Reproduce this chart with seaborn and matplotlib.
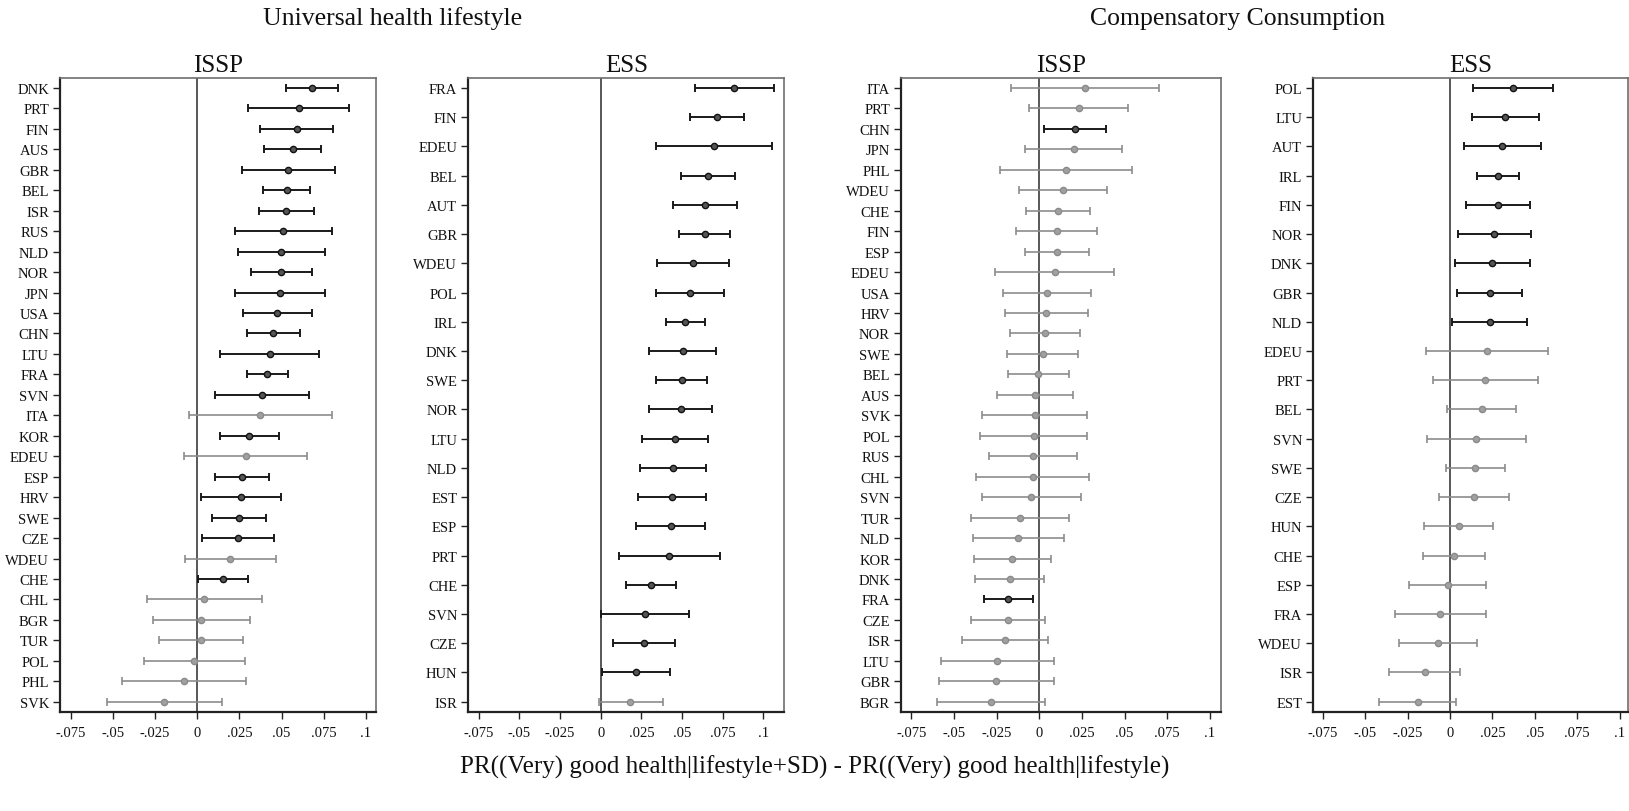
#forest plots of the marginal effect of one SD change, ISSP vs ESS
import matplotlib
matplotlib.use("Agg")
import matplotlib.pyplot as plt
import pandas as pd
import seaborn as sns

# --- Universal health lifestyle, ISSP
issp_uni_ctry = ["DNK", "PRT", "FIN", "AUS", "GBR", "BEL", "ISR", "RUS", "NLD", "NOR", "JPN", "USA",
                 "CHN", "LTU", "FRA", "SVN", "ITA", "KOR", "EDEU", "ESP", "HRV", "SWE", "CZE", "WDEU",
                 "CHE", "CHL", "BGR", "TUR", "POL", "PHL", "SVK"]
issp_uni_est = [.0679, .0604, .0590, .0566, .0538, .0530, .0528, .0511, .0499, .0499, .0491, .0475,
                .0451, .0430, .0416, .0386, .0374, .0309, .0289, .0265, .0257, .0247, .0241, .0196,
                .0150, .0040, .0024, .0020, -.0018, -.0081, -.0196]
issp_uni_lo = [.0525, .0303, .0374, .0398, .0263, .0392, .0366, .0226, .0241, .0321, .0224, .0273,
               .0293, .0135, .0297, .0105, -.0049, .0135, -.0077, .0105, .0020, .0087, .0030, -.0073,
               .0004, -.0301, -.0263, -.0230, -.0317, -.0445, -.0536]
issp_uni_hi = [.0837, .0903, .0804, .0732, .0816, .0671, .0693, .0798, .0760, .0679, .0760, .0679,
               .0612, .0723, .0540, .0663, .0800, .0485, .0653, .0426, .0497, .0408, .0453, .0465,
               .0301, .0382, .0311, .0269, .0281, .0287, .0144]

# --- Universal health lifestyle, ESS
ess_uni_ctry = ["FRA", "FIN", "EDEU", "BEL", "AUT", "GBR", "WDEU", "POL", "IRL", "DNK", "SWE", "NOR",
                "LTU", "NLD", "EST", "ESP", "PRT", "CHE", "SVN", "CZE", "HUN", "ISR"]
ess_uni_est = [.0822, .0717, .0695, .0658, .0639, .0639, .0566, .0549, .0520, .0504, .0498, .0492,
               .0457, .0443, .0441, .0430, .0422, .0309, .0273, .0266, .0219, .0182]
ess_uni_lo = [.0578, .0551, .0340, .0494, .0447, .0480, .0344, .0342, .0404, .0297, .0340, .0299,
              .0256, .0242, .0232, .0217, .0111, .0158, .0004, .0076, .0010, -.0012]
ess_uni_hi = [.1064, .0881, .1051, .0826, .0836, .0797, .0789, .0758, .0641, .0711, .0656, .0684,
              .0662, .0645, .0650, .0643, .0734, .0461, .0543, .0459, .0426, .0381]

# --- Compensatory Consumption, ISSP
issp_comp_ctry = ["ITA", "PRT", "CHN", "JPN", "PHL", "WDEU", "CHE", "FIN", "ESP", "EDEU", "USA", "HRV",
                  "NOR", "SWE", "BEL", "AUS", "SVK", "POL", "RUS", "CHL", "SVN", "TUR", "NLD", "KOR",
                  "DNK", "FRA", "CZE", "ISR", "LTU", "GBR", "BGR"]
issp_comp_est = [.0270, .0232, .0209, .0201, .0158, .0139, .0109, .0102, .0102, .0090, .0045, .0041,
                 .0035, .0020, -.0008, -.0025, -.0025, -.0033, -.0037, -.0039, -.0049, -.0115, -.0123, -.0158,
                 -.0174, -.0182, -.0182, -.0199, -.0246, -.0252, -.0283]
issp_comp_lo = [-.0164, -.0059, .0027, -.0082, -.0230, -.0121, -.0078, -.0135, -.0084, -.0260, -.0213, -.0201,
                -.0172, -.0189, -.0182, -.0250, -.0334, -.0346, -.0295, -.0369, -.0336, -.0402, -.0391, -.0381,
                -.0375, -.0324, -.0402, -.0453, -.0578, -.0590, -.0600]
issp_comp_hi = [.0701, .0521, .0393, .0484, .0545, .0398, .0297, .0340, .0289, .0438, .0303, .0283,
                .0240, .0229, .0174, .0197, .0281, .0279, .0223, .0289, .0242, .0174, .0145, .0066,
                .0029, -.0035, .0035, .0051, .0088, .0084, .0035]

# --- Compensatory Consumption, ESS
ess_comp_ctry = ["POL", "LTU", "AUT", "IRL", "FIN", "NOR", "DNK", "GBR", "NLD", "EDEU", "PRT", "BEL",
                 "SVN", "SWE", "CZE", "HUN", "CHE", "ESP", "FRA", "WDEU", "ISR", "EST"]
ess_comp_est = [.0374, .0325, .0309, .0283, .0281, .0260, .0248, .0234, .0234, .0217, .0209, .0187,
                .0154, .0150, .0140, .0051, .0022, -.0014, -.0057, -.0069, -.0150, -.0191]
ess_comp_lo = [.0138, .0130, .0085, .0157, .0093, .0045, .0028, .0041, .0010, -.0144, -.0102, -.0016,
               -.0138, -.0026, -.0065, -.0154, -.0161, -.0240, -.0327, -.0299, -.0358, -.0419]
ess_comp_hi = [.0608, .0524, .0535, .0409, .0469, .0476, .0469, .0425, .0455, .0577, .0520, .0390,
               .0449, .0327, .0348, .0256, .0205, .0215, .0215, .0159, .0059, .0035]

xticks = [-.075, -.05, -.025, 0, .025, .05, .075, .1]
xticklabels = ["-.075", "-.05", "-.025", "0", ".025", ".05", ".075", ".1"]

sns.set_style("white")
plt.rcParams["font.family"] = ["Liberation Serif", "DejaVu Serif"]

W, H = 1629, 812
fig = plt.figure(figsize=(W / 100, H / 100), dpi=100)

panels = [
    ("ISSP", issp_uni_ctry, issp_uni_est, issp_uni_lo, issp_uni_hi, 60, 316, (-0.0815, 0.1061)),
    ("ESS", ess_uni_ctry, ess_uni_est, ess_uni_lo, ess_uni_hi, 468.3, 316, (-0.0814, 0.1129)),
    ("ISSP", issp_comp_ctry, issp_comp_est, issp_comp_lo, issp_comp_hi, 901, 320, (-0.0810, 0.1065)),
    ("ESS", ess_comp_ctry, ess_comp_est, ess_comp_lo, ess_comp_hi, 1313.3, 314.7, (-0.0807, 0.1050)),
]

top_px, bot_px = 79, 712.7
for title, ctry, est, lo, hi, left_px, width_px, xlim in panels:
    ax = fig.add_axes([left_px / W, 1 - bot_px / H, width_px / W, (bot_px - top_px) / H])
    df = pd.DataFrame({"country": ctry, "est": est, "lo": lo, "hi": hi})
    df["pos"] = range(len(df))
    df["sig"] = (df["lo"] > 0) | (df["hi"] < 0)
    n = len(df)

    ax.axvline(0, color="#4a4a4a", lw=1.3, zorder=1)

    styles = {False: ("#8c8c8c", "#a0a0a0", "#8a8a8a", 1.2),
              True: ("#1a1a1a", "#555555", "#111111", 1.4)}
    for sig, (lc, fc, ec, lw) in styles.items():
        sub = df[df["sig"] == sig]
        if sub.empty:
            continue
        ax.errorbar(sub["est"], sub["pos"], xerr=[sub["est"] - sub["lo"], sub["hi"] - sub["est"]],
                    fmt="none", ecolor=lc, elinewidth=lw, capsize=3, capthick=lw, zorder=2)
        sns.scatterplot(data=sub, x="est", y="pos", color=fc, edgecolor=ec, linewidth=1.0,
                        s=20, ax=ax, zorder=3, legend=False)

    pad = (n - 1) * 0.0163
    ax.set_ylim(n - 1 + pad, -pad)
    ax.set_xlim(*xlim)
    ax.set_yticks(df["pos"])
    ax.set_yticklabels(df["country"])
    ax.set_xticks(xticks)
    ax.set_xticklabels(xticklabels)
    ax.set_xlabel("")
    ax.set_ylabel("")
    ax.tick_params(axis="both", labelsize=10.5, length=5, width=1, color="#222222",
                   labelcolor="#111111", pad=3, left=True, bottom=True)
    ax.tick_params(axis="x", pad=5)
    for side in ["left", "bottom"]:
        ax.spines[side].set_color("#222222")
        ax.spines[side].set_linewidth(1.6)
    for side in ["top", "right"]:
        ax.spines[side].set_color("#6e6e6e")
        ax.spines[side].set_linewidth(1.2)

    fig.text((left_px + width_px / 2) / W, 1 - 72 / H, title, ha="center", va="baseline",
             fontsize=18, color="#111111")

fig.text(393 / W, 1 - 25 / H, "Universal health lifestyle", ha="center", va="baseline",
         fontsize=18.5, color="#111111")
fig.text(1238 / W, 1 - 25 / H, "Compensatory Consumption", ha="center", va="baseline",
         fontsize=18.5, color="#111111")
fig.text(0.5, 1 - 767 / H, "PR((Very) good health|lifestyle+SD) - PR((Very) good health|lifestyle)",
         ha="center", va="center", fontsize=18, color="#111111")

fig.savefig("out.png", dpi=100)
